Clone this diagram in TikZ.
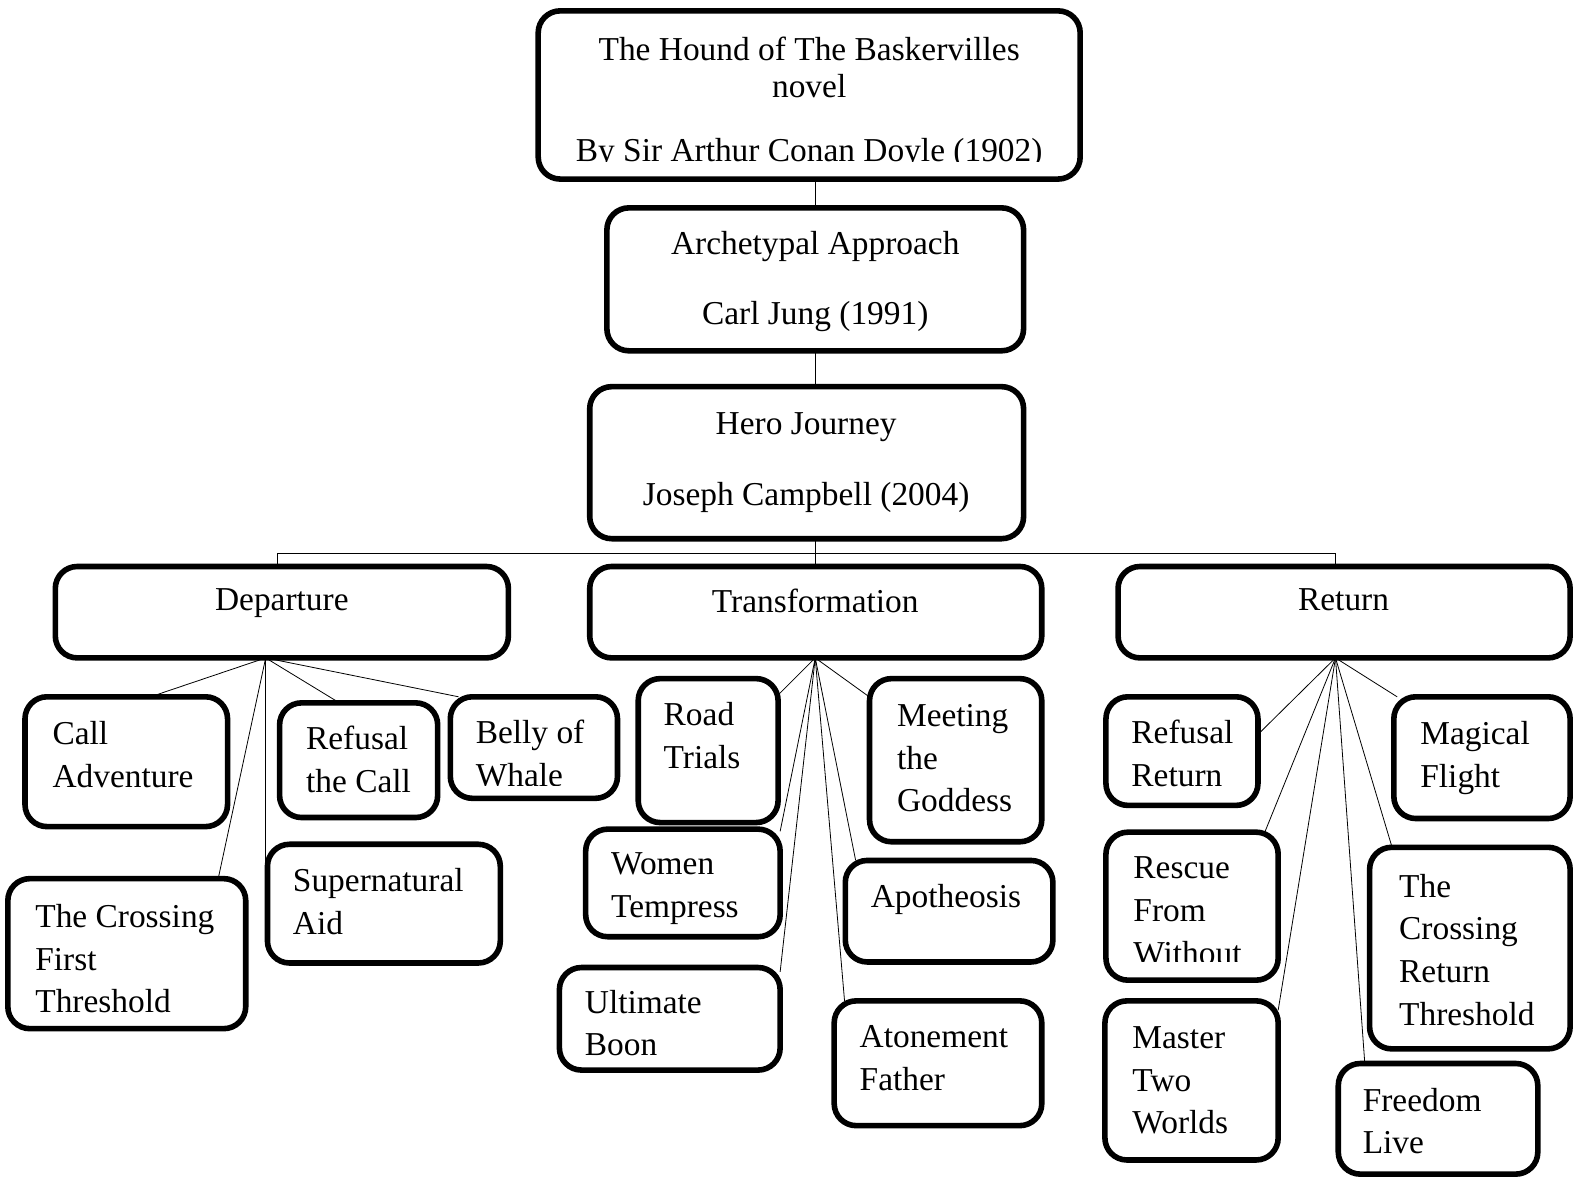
\documentclass[tikz,border=0pt]{standalone}
\usepackage{fontspec}
\setmainfont{Liberation Serif}
\usetikzlibrary{calc,backgrounds}
\tikzset{
  boxst/.style={draw, line width=2.8pt, rounded corners=11pt, fill=white, inner sep=0pt, outer sep=0pt},
  conn/.style={line width=0.95pt},
  lbl/.style={inner sep=0pt, outer sep=0pt, align=left, font=\fontsize{16.7}{21.4}\selectfont},
  clbl/.style={inner sep=0pt, outer sep=0pt, anchor=north, font=\fontsize{16.7}{21.4}\selectfont},
}
\newcommand\bx[5]{\node[boxst, minimum width={(#4-#2-5.5)*0.5051pt}, minimum height={(#5-#3-5.5)*0.5051pt}] (#1) at ({(#2+#4)/2},{(#3+#5)/2}) {};}
\begin{document}
\begin{tikzpicture}[x=0.5051pt,y=-0.5051pt]
\useasboundingbox (0,0) rectangle (1568,1165);
% boxes
\bx{title}{530}{8}{1072}{180}
\bx{arch}{598}{203}{1016}{350}
\bx{hero}{581}{380}{1016}{536}
\bx{dep}{52}{558}{506}{654}
\bx{trans}{581}{558}{1034}{654}
\bx{ret}{1104}{558}{1557}{654}
\bx{cadv}{22}{687}{228}{821}
\bx{rcall}{274}{693}{436}{812}
\bx{belly}{443}{687}{614}{793}
\bx{cfirst}{5}{867}{246}{1021}
\bx{super}{262}{833}{498}{956}
\bx{road}{629}{669}{773}{817}
\bx{meet}{858}{669}{1034}{836}
\bx{women}{577}{818}{775}{930}
\bx{apo}{834}{849}{1045}{955}
\bx{boon}{551}{955}{775}{1062}
\bx{aton}{823}{988}{1034}{1117}
\bx{rret}{1092}{687}{1248}{800}
\bx{magic}{1377}{687}{1557}{813}
\bx{rescue}{1092}{821}{1268}{973}
\bx{cret}{1353}{836}{1557}{1041}
\bx{master}{1091}{988}{1268}{1151}
\bx{free}{1322}{1050}{1525}{1165}
% connectors
\begin{scope}[on background layer, conn]
\draw (title.south -| 807,0) -- (arch.north -| 807,0);
\draw (arch.south -| 807,0) -- (hero.north -| 807,0);
\coordinate (bar) at (807,548);
\draw (hero.south -| 807,0) -- (bar);
\draw (dep.north -| 275,0) -- (bar -| 275,0) -- (bar -| 1322,0) -- (ret.north -| 1322,0);
\draw (bar) -- (trans.north -| 807,0);
% departure
\coordinate (dh) at (dep.south -| 263,0);
\draw (dh) -- (cadv.north -| 149,0);
\draw (dh) -- (rcall.north -| 336,0);
\draw (dh) -- (belly.north -| 454,0);
\draw (dh) -- (cfirst.north -| 216,0);
\draw (dh) -- (dh |- super.west);
% transformation
\coordinate (th) at (trans.south -| 807,0);
\draw (th) -- (road.east |- 0,688);
\draw (th) -- (meet.west |- 0,690);
\draw (th) -- (women.east |- 0,823);
\draw (th) -- (boon.east |- 0,962);
\draw (th) -- (apo.north -| 847,0);
\draw (th) -- (aton.north -| 836,0);
% return
\coordinate (rh) at (ret.south -| 1322,0);
\draw (rh) -- (rret.east |- 0,727);
\draw (rh) -- (rescue.north -| 1252,0);
\draw (rh) -- (master.east |- 0,1000);
\draw (rh) -- (free.north -| 1351,0);
\draw (rh) -- (cret.north -| 1378,0);
\draw (rh) -- (magic.north -| 1383,0);
\end{scope}
% texts
\node[clbl] (t1a) at (801,37) {The Hound of The Baskervilles};
\node[clbl] (t1b) at (801,74) {novel};
\begin{scope}
\clip (540,100) rectangle (1062,160);
\node[clbl] (t1c) at (801,137) {By Sir Arthur Conan Doyle (1902)};
\end{scope}
\node[clbl] (t2a) at (807,229) {Archetypal Approach};
\node[clbl] (t2b) at (807,298) {Carl Jung (1991)};
\node[clbl] (t3a) at (798,408) {Hero Journey};
\node[clbl] (t3b) at (798,477) {Joseph Campbell (2004)};
\node[clbl] (tdep) at (279,583) {Departure};
\node[clbl] (ttrans) at (807,583) {Transformation};
\node[clbl] (tret) at (1330,583) {Return};
\node[lbl, anchor=north west] (tcadv) at (52,714) {Call\\Adventure};
\node[lbl, anchor=north west] (trcall) at (303,719) {Refusal\\the Call};
\begin{scope}
\clip (450,690) rectangle (610,778);
\node[lbl, anchor=north west] (tbelly) at (471,713) {Belly of\\Whale};
\end{scope}
\begin{scope}
\clip (10,870) rectangle (240,1003);
\node[lbl, anchor=north west] (tcfirst) at (35,895) {The Crossing\\First\\Threshold};
\end{scope}
\node[lbl, anchor=north west] (tsuper) at (290,860) {Supernatural\\Aid};
\node[lbl, anchor=north west] (troad) at (657,695) {Road\\Trials};
\node[lbl, anchor=north west] (tmeet) at (888,697) {Meeting\\the\\Goddess};
\node[lbl, anchor=north west] (twomen) at (605,844) {Women\\Tempress};
\node[lbl, anchor=north west] (tapo) at (862,875) {Apotheosis};
\node[lbl, anchor=north west] (tboon) at (579,980) {Ultimate\\Boon};
\node[lbl, anchor=north west] (taton) at (851,1015) {Atonement\\Father};
\node[lbl, anchor=north west] (trret) at (1120,713) {Refusal\\Return};
\node[lbl, anchor=north west] (tmagic) at (1406,714) {Magical\\Flight};
\begin{scope}
\clip (1097,825) rectangle (1263,952);
\node[lbl, anchor=north west] (trescue) at (1122,848) {Rescue\\From\\Without};
\end{scope}
\node[lbl, anchor=north west] (tcret) at (1385,865) {The\\Crossing\\Return\\Threshold};
\node[lbl, anchor=north west] (tmaster) at (1121,1016) {Master\\Two\\Worlds};
\node[lbl, anchor=north west] (tfree) at (1349,1077) {Freedom\\Live};
\end{tikzpicture}
\end{document}
